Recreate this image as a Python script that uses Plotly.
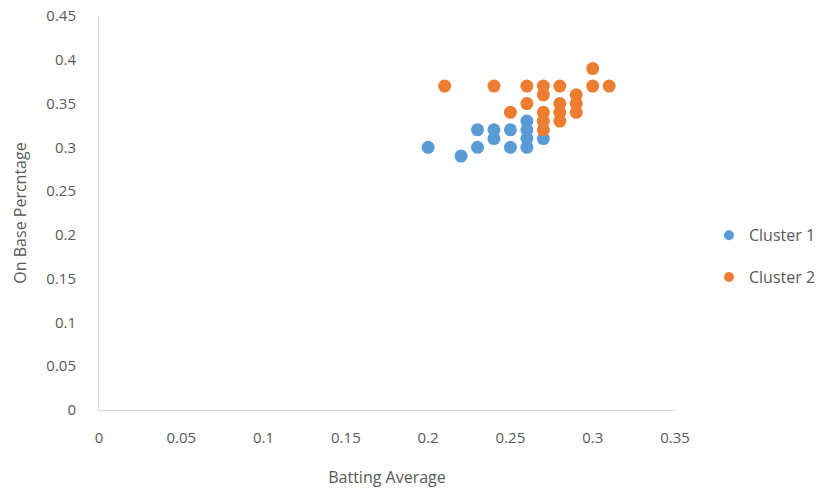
import plotly.graph_objects as go

cluster1_x = [0.20, 0.22, 0.23, 0.23, 0.24, 0.24, 0.25, 0.25, 0.26, 0.26, 0.26, 0.26, 0.27]
cluster1_y = [0.30, 0.29, 0.32, 0.30, 0.32, 0.31, 0.32, 0.30, 0.33, 0.32, 0.31, 0.30, 0.31]

cluster2_x = [0.21, 0.24, 0.26, 0.26, 0.25, 0.27, 0.27, 0.27, 0.27, 0.27,
              0.28, 0.28, 0.28, 0.28, 0.29, 0.29, 0.29, 0.30, 0.30, 0.31]
cluster2_y = [0.37, 0.37, 0.37, 0.35, 0.34, 0.37, 0.36, 0.34, 0.33, 0.32,
              0.37, 0.35, 0.34, 0.33, 0.36, 0.35, 0.34, 0.39, 0.37, 0.37]

x_ticks = [0, 0.05, 0.1, 0.15, 0.2, 0.25, 0.3, 0.35]
x_tick_labels = ["0", "0.05", "0.1", "0.15", "0.2", "0.25", "0.3", "0.35"]
y_ticks = [0, 0.05, 0.1, 0.15, 0.2, 0.25, 0.3, 0.35, 0.4, 0.45]
y_tick_labels = ["0", "0.05", "0.1", "0.15", "0.2", "0.25", "0.3", "0.35", "0.4", "0.45"]

series_names = ["Cluster 1", "Cluster 2"]
series_colors = ["#5B9BD5", "#ED7D31"]

font_family = "Open Sans, Lato, sans-serif"
grey = "#595959"

fig = go.Figure()
for name, color, xs, ys in zip(series_names, series_colors,
                               [cluster1_x, cluster2_x], [cluster1_y, cluster2_y]):
    fig.add_trace(go.Scatter(x=xs, y=ys, mode="markers", name=name,
                             legendgroup=name, showlegend=False,
                             marker=dict(color=color, size=13)))
    # legend entry with a smaller symbol, as in the reference
    fig.add_trace(go.Scatter(x=[None], y=[None], mode="markers", name=name,
                             legendgroup=name, showlegend=True,
                             marker=dict(color=color, size=10)))

fig.update_layout(
    width=831, height=490,
    margin=dict(l=99, r=156, t=16, b=80, autoexpand=False),
    paper_bgcolor="white", plot_bgcolor="white",
    font=dict(family=font_family, size=15, color=grey),
    showlegend=True,
    legend=dict(x=1.059, y=0.39, xanchor="left", yanchor="middle",
                font=dict(size=16, color=grey),
                tracegroupgap=18, bgcolor="rgba(0,0,0,0)"),
    xaxis=dict(range=[0, 0.35], tickvals=x_ticks, ticktext=x_tick_labels,
               showgrid=False, zeroline=False, showline=True, linecolor="#d9d9d9",
               linewidth=1, ticks="", ticklabelstandoff=14, automargin=False,
               title=dict(text="Batting Average", font=dict(size=16, color=grey), standoff=25)),
    yaxis=dict(range=[0, 0.45], tickvals=y_ticks, ticktext=y_tick_labels,
               showgrid=False, zeroline=False, showline=True, linecolor="#d9d9d9",
               linewidth=1, ticks="", ticklabelstandoff=19, automargin=False,
               title=dict(text="On Base Percntage", font=dict(size=16, color=grey), standoff=15)),
)

# remove the browser's default 8px body margin so the figure fills the window
fig.write_html("out.html", config={"displayModeBar": False},
               post_script="document.body.style.margin='0px';")
